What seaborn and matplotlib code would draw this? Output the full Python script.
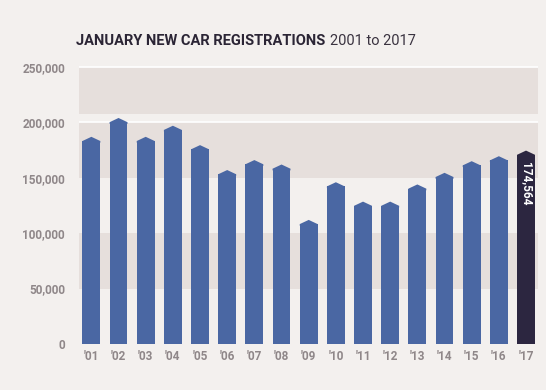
import matplotlib
matplotlib.use("Agg")
import matplotlib.pyplot as plt
import seaborn as sns
import pandas as pd

# January new car registrations
years = ["'01", "'02", "'03", "'04", "'05", "'06", "'07", "'08", "'09",
         "'10", "'11", "'12", "'13", "'14", "'15", "'16", "'17"]
registrations = [187000, 204000, 187000, 197000, 179500, 157000, 166000, 162000, 112000,
                 146000, 128500, 128500, 144000, 154500, 165000, 169500, 174564]
y_ticks = [0, 50000, 100000, 150000, 200000, 250000]
y_tick_labels = ["0", "50,000", "100,000", "150,000", "200,000", "250,000"]

BG = "#f3f0ee"
BAND = "#e6dfdc"
BAR = "#4a67a3"
LAST = "#2c2640"
TICK = "#8f8789"

sns.set_theme(style="white")
plt.rcParams["font.family"] = ["Roboto", "DejaVu Sans"]

df = pd.DataFrame({"year": years, "regs": registrations})
tip = 3800  # height of the pointed top, data units
df["body"] = df["regs"] - tip
colors = [BAR] * (len(years) - 1) + [LAST]

fig = plt.figure(figsize=(5.46, 3.9), dpi=100, facecolor=BG)
ax = fig.add_axes([0.1447, 0.118, 0.8406, 0.713])
ax.set_facecolor(BG)

# background bands
for lo, hi in [(50000, 100000), (150000, 200000), (208000, 250000)]:
    ax.axhspan(lo, hi, color=BAND, zorder=0, lw=0)
for y in [200000, 250000]:
    ax.axhline(y, color="white", lw=1.2, zorder=0.5)

width = 0.66
sns.barplot(data=df, x="year", y="body", hue="year", palette=colors,
            legend=False, width=width, saturation=1, linewidth=0,
            edgecolor="none", ax=ax, zorder=2)

# pointed tops (overlap the bar body a little so no seam shows)
for i, (b, v) in enumerate(zip(df["body"], df["regs"])):
    ax.fill([i - width / 2, i - width / 2, i, i + width / 2, i + width / 2],
            [b - 1500, b, v, b, b - 1500],
            color=colors[i], lw=0, zorder=2)

# value label on the last bar
last = len(years) - 1
ax.text(last, registrations[-1] - 10500, f"{registrations[-1]:,}", rotation=-90,
        ha="center", va="top", color="white", fontsize=8.5, fontweight="bold", zorder=3)

ax.set_xlim(-0.455, len(years) - 1 + 0.44)
ax.set_ylim(0, 251000)
ax.set_yticks(y_ticks)
ax.set_yticklabels(y_tick_labels)
ax.set_xlabel("")
ax.set_ylabel("")
ax.tick_params(axis="both", length=0, colors=TICK, labelsize=8.5)
ax.tick_params(axis="y", pad=10)
ax.tick_params(axis="x", pad=4)
for lab in ax.get_xticklabels() + ax.get_yticklabels():
    lab.set_fontweight("bold")
for s in ax.spines.values():
    s.set_visible(False)

# title in two weights
t1 = fig.text(0.139, 0.895, "JANUARY NEW CAR REGISTRATIONS", fontsize=10.5,
              fontweight="bold", color="#2b2535", va="center", ha="left")
fig.canvas.draw()
bb = t1.get_window_extent(fig.canvas.get_renderer())
fig.text(bb.x1 / fig.bbox.width + 0.008, 0.895, "2001 to 2017", fontsize=10.5,
         color="#3a3340", va="center", ha="left")

fig.savefig("out.png", dpi=100, facecolor=BG)
